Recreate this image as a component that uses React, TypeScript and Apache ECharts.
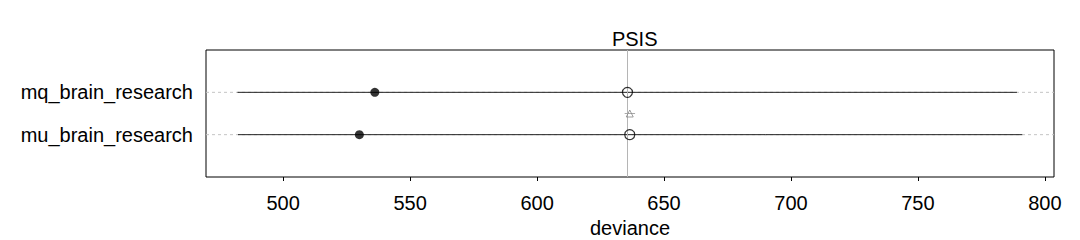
import React, { useEffect, useRef } from "react";
import * as echarts from "echarts";

const models = ["mu_brain_research", "mq_brain_research"]; // y = 1, 2
const rowPos = [1, 2];
const inSample = [530.0, 536.1];
const psis = [636.5, 635.6];
const rangeLo = [482.2, 482.0];
const rangeHi = [791.1, 789.0];
const diffPos = [1.5];
const diffVal = [636.5];
const diffLo = [634.5];
const diffHi = [638.6];
const xTicks = [500, 550, 600, 650, 700, 750, 800];
const xMin = 469.6;
const xMax = 803.6;

const FONT = "Liberation Sans, Arial, Helvetica, sans-serif";
const FS = 20;

export default function App() {
  const ref = useRef<HTMLDivElement>(null);
  useEffect(() => {
    const chart = echarts.init(ref.current!, null, { renderer: "svg" });
    const best = Math.min(...psis);
    const guideSeries = rowPos.map((p) => ({
      type: "line",
      data: [
        [xMin, p],
        [xMax, p],
      ],
      symbol: "none",
      lineStyle: { color: "#c4c4c4", type: [3, 3], width: 1 },
      z: 1,
      silent: true,
    }));
    const rangeSeries = models.map((m, i) => ({
      type: "line",
      name: m + "_range",
      data: [
        [rangeLo[i], rowPos[i]],
        [rangeHi[i], rowPos[i]],
      ],
      symbol: "none",
      lineStyle: { color: "#222", width: 1 },
      z: 3,
      silent: true,
    }));
    const diffSeries = diffPos.map((p, i) => ({
      type: "line",
      data: [
        [diffLo[i], p],
        [diffHi[i], p],
      ],
      symbol: "none",
      lineStyle: { color: "#aaa", width: 1 },
      z: 3,
      silent: true,
    }));
    chart.setOption({
      animation: false,
      title: {
        text: "PSIS",
        left: 629.7,
        top: 24,
        textAlign: "center",
        textStyle: { fontFamily: FONT, fontSize: FS, fontWeight: "normal", color: "#000" },
      },
      grid: {
        left: 206,
        right: 26,
        top: 50,
        bottom: 63,
        show: true,
        containLabel: false,
        outerBoundsMode: "none",
        borderColor: "#000",
        borderWidth: 1,
        backgroundColor: "transparent",
      },
      xAxis: {
        type: "value",
        min: xMin,
        max: xMax,
        name: "deviance",
        nameLocation: "middle",
        nameGap: 38,
        nameTextStyle: { fontFamily: FONT, fontSize: FS, color: "#000" },
        axisLine: { show: false },
        axisTick: { show: true, length: 4, customValues: xTicks, lineStyle: { color: "#000" } },
        axisLabel: {
          customValues: xTicks,
          fontFamily: FONT,
          fontSize: FS,
          color: "#000",
          margin: 16,
        },
        splitLine: { show: false },
      },
      yAxis: {
        type: "value",
        min: 0,
        max: 3,
        interval: 1,
        axisLine: { show: false },
        axisTick: { show: false },
        splitLine: { show: false },
        axisLabel: {
          fontFamily: FONT,
          fontSize: FS,
          color: "#000",
          margin: 13,
          formatter: (v: number) => {
            const idx = rowPos.indexOf(v);
            return idx >= 0 ? models[idx] : "";
          },
        },
      },
      series: [
        ...guideSeries,
        {
          type: "line",
          data: [],
          markLine: {
            silent: true,
            symbol: "none",
            label: { show: false },
            lineStyle: { color: "#b5b5b5", type: "solid", width: 1 },
            data: [{ xAxis: best }],
          },
          z: 2,
        },
        ...rangeSeries,
        ...diffSeries,
        {
          type: "scatter",
          data: inSample.map((v, i) => [v, rowPos[i]]),
          symbol: "circle",
          symbolSize: 9,
          itemStyle: { color: "#000" },
          z: 5,
        },
        {
          type: "scatter",
          data: psis.map((v, i) => [v, rowPos[i]]),
          symbol: "circle",
          symbolSize: 10,
          itemStyle: { color: "rgba(255,255,255,0)", borderColor: "#000", borderWidth: 1.2 },
          z: 5,
        },
        {
          type: "scatter",
          data: diffVal.map((v, i) => [v, diffPos[i]]),
          symbol: "triangle",
          symbolSize: 7,
          itemStyle: { color: "rgba(255,255,255,0)", borderColor: "#888", borderWidth: 1 },
          z: 5,
        },
      ],
    });
    return () => chart.dispose();
  }, []);
  return (
    <div
      ref={ref}
      style={{ position: "fixed", left: 0, top: 0, width: 1080, height: 240, background: "#fff" }}
    />
  );
}
